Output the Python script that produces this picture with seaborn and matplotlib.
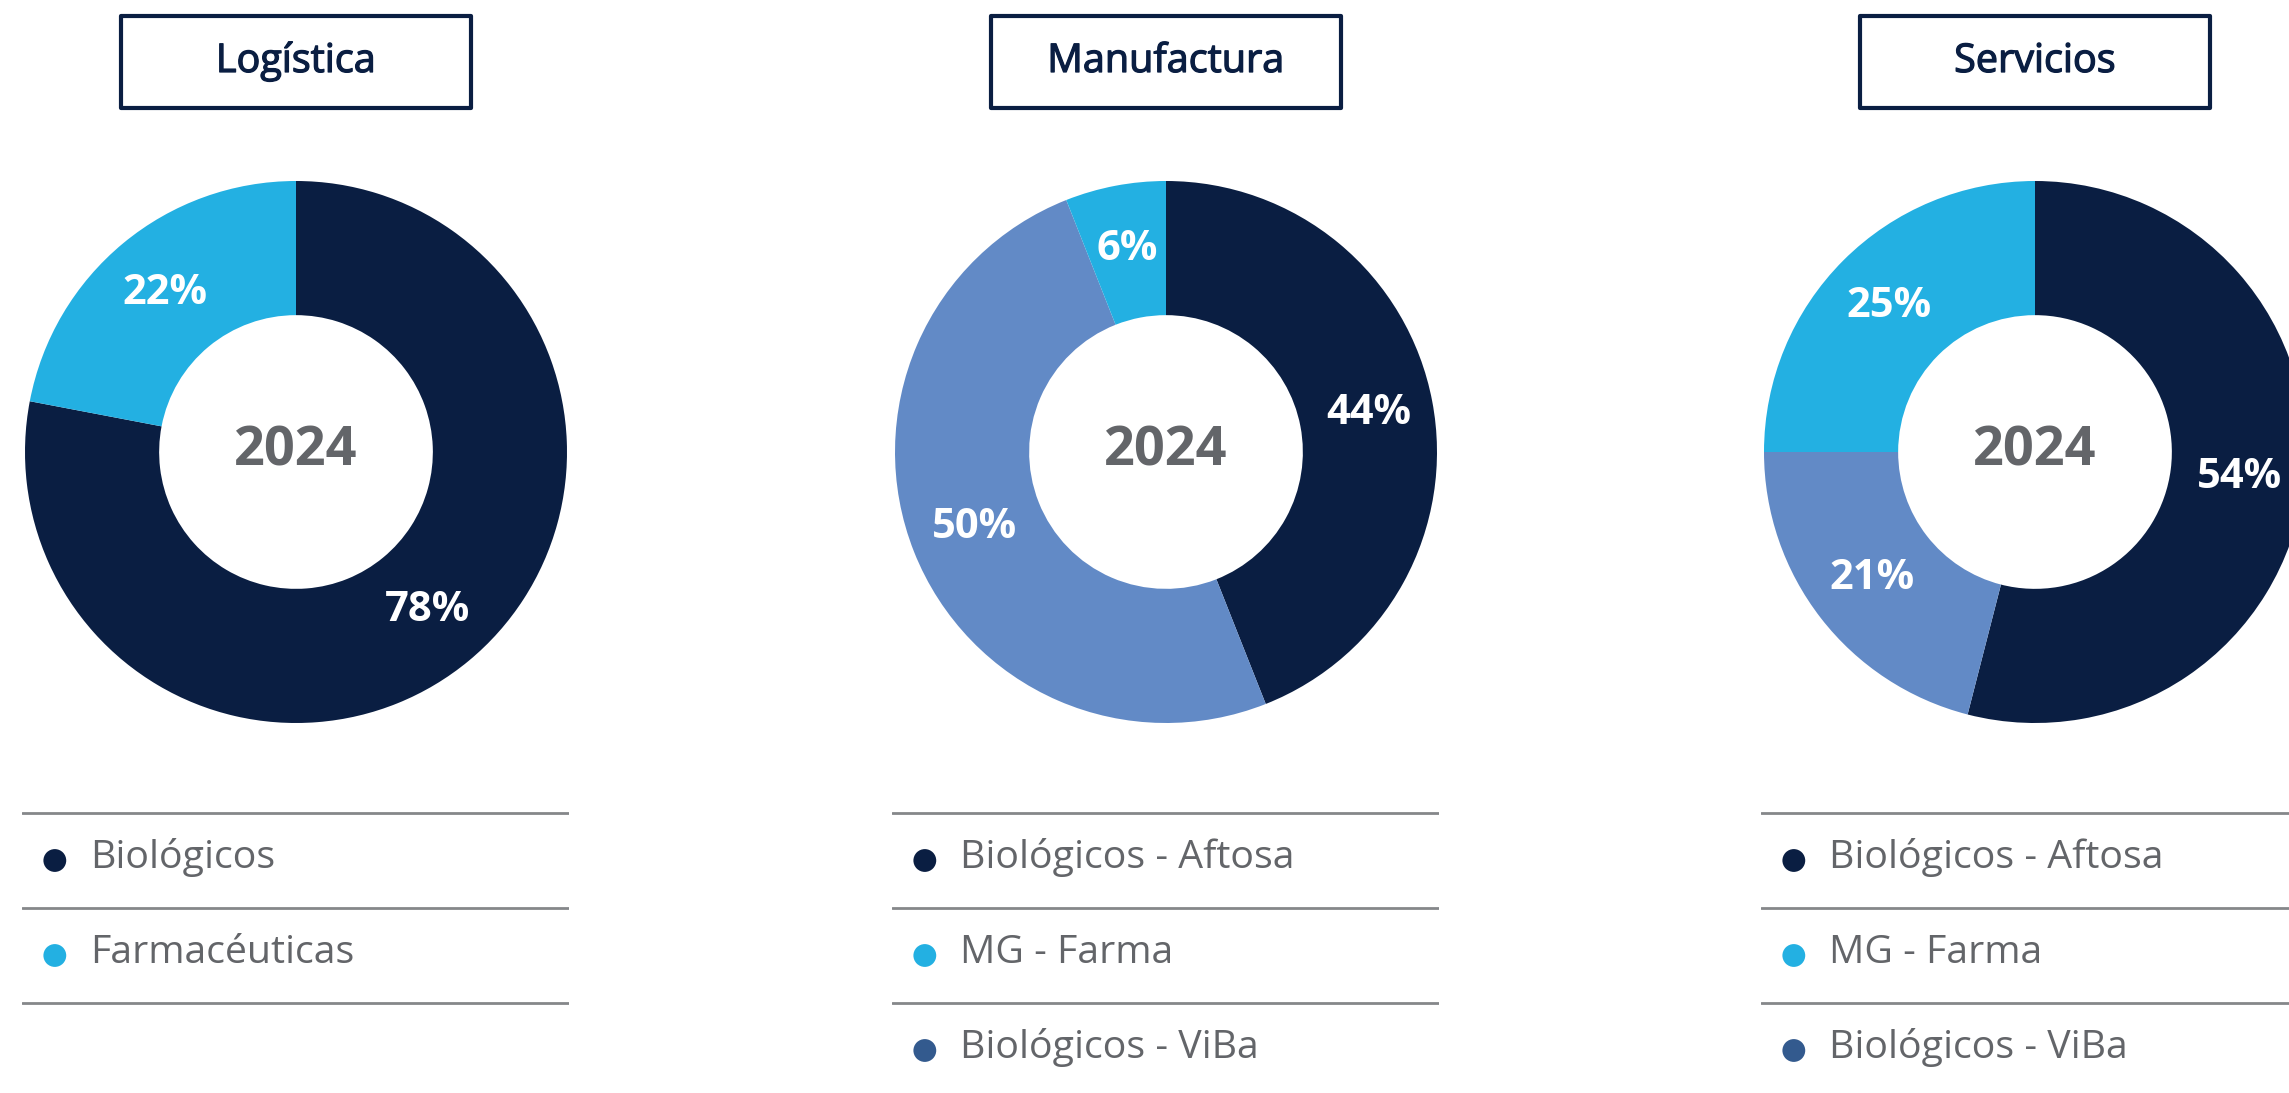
import matplotlib
matplotlib.use("Agg")
import matplotlib.pyplot as plt
from matplotlib.patches import Rectangle
import matplotlib.patheffects as pe
import seaborn as sns
import pandas as pd

sns.set_theme(style="white")
plt.rcParams['font.family'] = ['Open Sans', 'DejaVu Sans']

# ---------------- data ----------------
panel_titles = ["Logística", "Manufactura", "Servicios"]
year_label = "2024"

logistica_segments = ["Biológicos", "Farmacéuticas"]
logistica_values = [78, 22]

manufactura_segments = ["Biológicos - Aftosa", "MG - Farma", "Biológicos - ViBa"]
manufactura_values = [44, 6, 50]

servicios_segments = ["Biológicos - Aftosa", "MG - Farma", "Biológicos - ViBa"]
servicios_values = [54, 25, 21]

# clockwise drawing order of the slices (indexes into the lists above)
logistica_pie_order = [0, 1]
manufactura_pie_order = [0, 2, 1]
servicios_pie_order = [0, 2, 1]

# ---------------- style ----------------
NAVY = "#0a1e42"
LIGHT = "#23b0e2"
MID = "#628ac6"
MID_LEGEND = "#335a8e"
GRAY_TXT = "#636569"
GRAY_LINE = "#85878a"

slice_colors = {
    "Biológicos": NAVY, "Farmacéuticas": LIGHT,
    "Biológicos - Aftosa": NAVY, "MG - Farma": LIGHT, "Biológicos - ViBa": MID,
}
legend_colors = {
    "Biológicos": NAVY, "Farmacéuticas": LIGHT,
    "Biológicos - Aftosa": NAVY, "MG - Farma": LIGHT, "Biológicos - ViBa": MID_LEGEND,
}

W, H = 2289, 1093
fig = plt.figure(figsize=(W / 100, H / 100), dpi=100)
fig.patch.set_facecolor("white")

panels = [
    (panel_titles[0], logistica_segments, logistica_values, logistica_pie_order),
    (panel_titles[1], manufactura_segments, manufactura_values, manufactura_pie_order),
    (panel_titles[2], servicios_segments, servicios_values, servicios_pie_order),
]
centers_x = [296, 1166, 2035]
cy = 452
r_out = 271
hole = 0.505


def fx(px):
    return px / W


def fy(py):
    return 1 - py / H


for (title, segs, vals, order), cx in zip(panels, centers_x):
    # --- title box ---
    bw, bh = 350, 92
    fig.patches.append(Rectangle((fx(cx - bw / 2), fy(108)), bw / W, bh / H,
                                 transform=fig.transFigure, fill=False,
                                 edgecolor=NAVY, linewidth=3.0, joinstyle="round"))
    fig.text(fx(cx), fy(72), title, ha="center", va="baseline",
             fontsize=28.5, color=NAVY, fontweight="normal",
             path_effects=[pe.withStroke(linewidth=0.9, foreground=NAVY)])

    # --- donut ---
    ax = fig.add_axes([fx(cx - r_out), fy(cy + r_out), 2 * r_out / W, 2 * r_out / H])
    pv = [vals[i] for i in order]
    pc = [slice_colors[segs[i]] for i in order]
    wedges, _, autotexts = ax.pie(
        pv, colors=pc, startangle=90, counterclock=False, radius=1,
        wedgeprops=dict(width=1 - hole, linewidth=0),
        autopct=lambda p: f"{p:.0f}%", pctdistance=0.76,
        textprops=dict(color="white", fontsize=30, fontweight="bold"))
    ax.text(0, 0, year_label, ha="center", va="center", fontsize=39,
            fontweight="bold", color=GRAY_TXT)
    ax.set_xlim(-1, 1)
    ax.set_ylim(-1, 1)
    ax.set_aspect("equal")
    ax.axis("off")

    # --- legend block ---
    lx0, lx1 = cx - 274, cx + 273
    lax = fig.add_axes([fx(lx0), 0, (lx1 - lx0) / W, (H - 780) / H])
    row_h = 95
    top_r = (780 - 813) / row_h - 0.5
    bot_r = (H - 813) / row_h - 0.5
    n = len(segs)
    for k in range(n + 1):
        lax.axhline(k - 0.5, color=GRAY_LINE, linewidth=2.0)
    df = pd.DataFrame({"seg": segs, "row": list(range(n)), "x": [0.06] * n})
    sns.scatterplot(data=df, x="x", y="row", hue="seg",
                    palette=[legend_colors[s] for s in segs],
                    s=270, linewidth=0, legend=False, ax=lax)
    lax.set_xlim(0, 1)
    lax.set_ylim(bot_r, top_r)
    lax.axis("off")
    for k, s in enumerate(segs):
        lax.text(0.124, k - 0.03, s, ha="left", va="center", fontsize=28.3,
                 color=GRAY_TXT)

fig.savefig("out.png", dpi=100)
